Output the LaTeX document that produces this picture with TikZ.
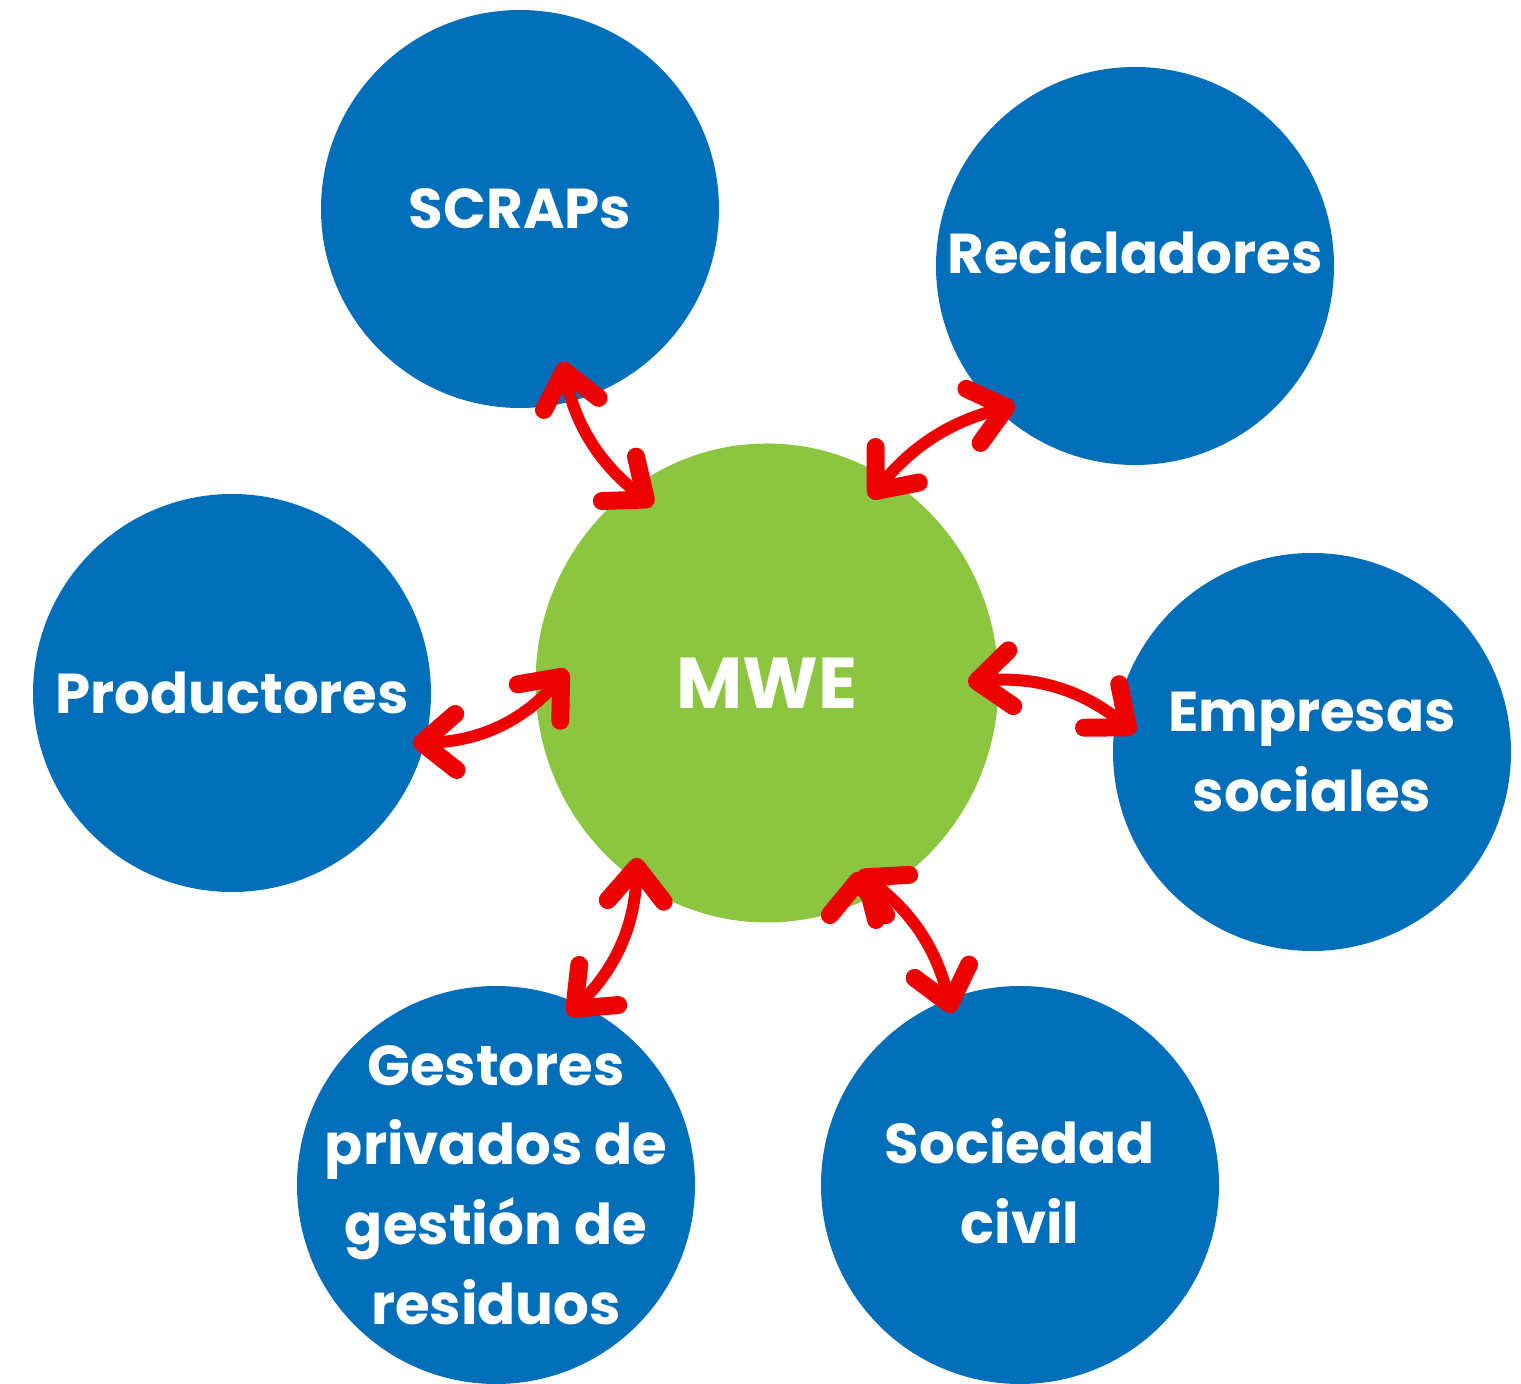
\documentclass[tikz,border=0pt]{standalone}
\usepackage{fontspec}
\setmainfont{Poppins}
\usetikzlibrary{positioning,calc,arrows.meta,shapes.geometric}
\definecolor{azul}{RGB}{0,110,185}
\definecolor{verde}{RGB}{140,197,64}
\definecolor{rojo}{RGB}{236,0,0}
\tikzset{
  circulo/.style={circle, fill=azul, inner sep=0pt, minimum size=3.98cm},
  texto/.style={text=white, inner sep=0pt, align=center, font=\bfseries\fontsize{16}{22.7}\selectfont},
  punta/.tip={Straight Barb[length=3.4mm, width=5.6mm, line width=0pt 1.5, round]}
}

\begin{document}
\begin{tikzpicture}
      \useasboundingbox (0,0) rectangle (15.21,-13.84);
      \node(scraps)[circulo, label={[texto]center:SCRAPs}] at (5.20,-2.09) {};
      \node(recic)[circulo, label={[texto, yshift=0.15cm]center:Recicladores}] at (11.35,-2.66) {};
      \node(prod)[circulo, label={[texto]center:Productores}] at (2.32,-6.93) {};
      \node(empresas)[circulo, label={[texto]center:Empresas\\sociales}] at (13.12,-7.52) {};
      \node(gestores)[circulo, label={[texto]center:Gestores\\privados de\\gestión de\\residuos}] at (4.96,-11.85) {};
      \node(civil)[circulo, label={[texto, yshift=0.04cm]center:Sociedad\\civil}] at (10.20,-11.85) {};
      \node(mwe)[ellipse, fill=verde, inner sep=0pt, minimum width=4.63cm, minimum height=4.79cm,
        label={[texto, font=\bfseries\fontsize{20.5}{24}\selectfont]center:MWE}] at (7.67,-6.83) {};
      % extremos de las flechas
      \coordinate (s1) at ($(scraps)+(0.42,-1.53)$);
      \coordinate (m1) at ($(mwe)+(-1.14,1.78)$);
      \coordinate (r1) at ($(recic)+(-1.20,-1.39)$);
      \coordinate (m2) at ($(mwe)+(1.03,1.85)$);
      \coordinate (p1) at ($(prod)+(1.81,-0.50)$);
      \coordinate (m3) at ($(mwe)+(-2.00,0.13)$);
      \coordinate (m4) at ($(mwe)+(2.01,0.01)$);
      \coordinate (e1) at ($(empresas)+(-1.77,0.19)$);
      \coordinate (m5) at ($(mwe)+(-1.30,-1.75)$);
      \coordinate (g1) at ($(gestores)+(0.72,1.70)$);
      \coordinate (m6) at ($(mwe)+(0.91,-1.89)$);
      \coordinate (c1) at ($(civil)+(-0.68,1.72)$);
      \path[draw=rojo, line width=3.4pt, line cap=round, line join=round, punta-punta]
      (s1) edge[bend right=20] (m1)
      (r1) edge[bend right=18] (m2)
      (p1) edge[bend right=24] (m3)
      (m4) edge[bend left=22] (e1)
      (g1) edge[bend right=22] (m5)
      (m6) edge[bend left=20] (c1);
    \end{tikzpicture}
\end{document}
